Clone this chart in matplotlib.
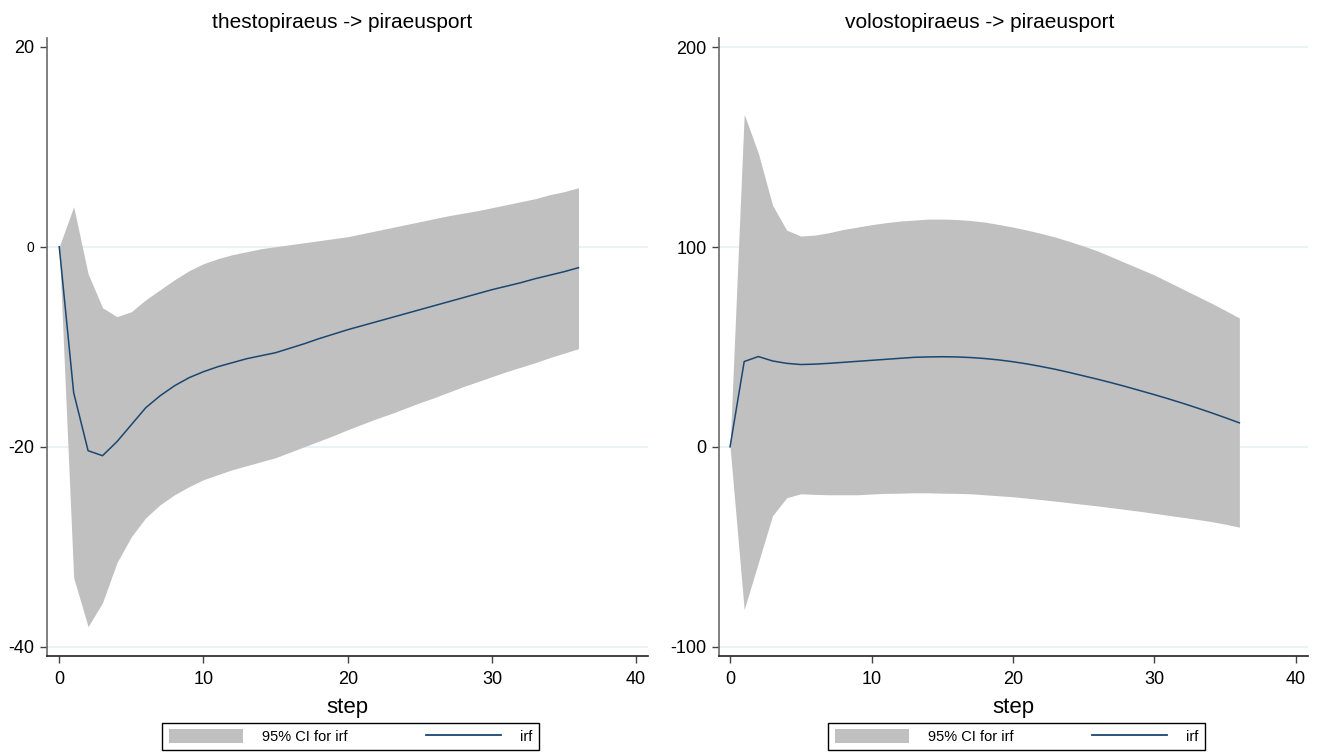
import matplotlib
matplotlib.use("Agg")
import matplotlib.pyplot as plt
from matplotlib.patches import Patch
from matplotlib.lines import Line2D

plt.rcParams['font.family'] = ['Liberation Sans', 'DejaVu Sans']
plt.rcParams['axes.unicode_minus'] = False

# impulse response steps
steps = list(range(37))

# thestopiraeus -> piraeusport
irf_thes = [0, -14.6, -20.4, -20.9, -19.5, -17.8, -16.1, -14.9, -13.9, -13.1, -12.5,
            -12.0, -11.6, -11.2, -10.9, -10.6, -10.15, -9.7, -9.2, -8.75, -8.3,
            -7.9, -7.5, -7.1, -6.7, -6.3, -5.9, -5.5, -5.1, -4.7, -4.3,
            -3.95, -3.6, -3.2, -2.85, -2.5, -2.1]
upper_thes = [0, 4.0, -2.7, -6.1, -7.0, -6.5, -5.3, -4.3, -3.3, -2.4, -1.7,
              -1.2, -0.8, -0.5, -0.2, 0.0, 0.2, 0.4, 0.6, 0.8, 1.0,
              1.3, 1.6, 1.9, 2.2, 2.5, 2.8, 3.1, 3.35, 3.6, 3.9,
              4.2, 4.5, 4.8, 5.2, 5.5, 5.9]
lower_thes = [0, -33.1, -38.0, -35.6, -31.6, -29.0, -27.1, -25.8, -24.8, -24.0, -23.3,
              -22.8, -22.3, -21.9, -21.5, -21.1, -20.55, -20.0, -19.45, -18.9, -18.3,
              -17.75, -17.2, -16.7, -16.15, -15.6, -15.1, -14.55, -14.0, -13.5, -13.0,
              -12.5, -12.05, -11.6, -11.1, -10.65, -10.2]

# volostopiraeus -> piraeusport
irf_volo = [0, 42.7, 45.2, 43.0, 41.8, 41.2, 41.4, 41.8, 42.3, 42.8, 43.3,
            43.8, 44.3, 44.8, 45.0, 45.1, 45.0, 44.7, 44.2, 43.5, 42.6,
            41.5, 40.2, 38.8, 37.2, 35.5, 33.8, 32.0, 30.1, 28.1, 26.1,
            24.0, 21.8, 19.5, 17.1, 14.6, 12.0]
upper_volo = [0, 166.5, 147.0, 121.0, 108.5, 105.5, 106.0, 107.2, 108.8, 110.0, 111.2,
              112.2, 113.0, 113.5, 114.0, 114.0, 113.8, 113.3, 112.5, 111.3, 110.0,
              108.5, 106.8, 105.0, 102.8, 100.5, 98.0, 95.0, 92.0, 89.0, 86.0,
              82.5, 79.0, 75.5, 72.0, 68.3, 64.5]
lower_volo = [0, -81.5, -58.0, -34.5, -25.5, -23.5, -23.8, -24.0, -24.0, -24.0, -23.6,
              -23.3, -23.2, -23.0, -23.0, -23.2, -23.3, -23.5, -24.0, -24.5, -25.0,
              -25.7, -26.4, -27.2, -28.0, -28.8, -29.6, -30.5, -31.4, -32.3, -33.3,
              -34.3, -35.3, -36.3, -37.4, -38.7, -40.2]

titles = ["thestopiraeus -> piraeusport", "volostopiraeus -> piraeusport"]
xticks = [0, 10, 20, 30, 40]
yticks_thes = [-40, -20, 0, 20]
yticks_volo = [-100, 0, 100, 200]
grid_thes = [-40, -20, 0]
grid_volo = [-100, 0, 100, 200]

W, H = 1320, 752
fig = plt.figure(figsize=(W / 100, H / 100), dpi=100)

ci_color = '#c0c0c0'
line_color = '#1a476f'
grid_color = '#e8f0f2'


def draw_panel(rect, irf, lo, hi, yticks, grid, xlim, ylim, title, title_x, leg_x):
    ax = fig.add_axes(rect)
    for g in grid:
        ax.axhline(g, color=grid_color, lw=1.2, zorder=0)
    ax.fill_between(steps, lo, hi, color=ci_color, linewidth=0, zorder=1)
    ax.plot(steps, irf, color=line_color, lw=1.1, zorder=2)
    ax.set_xlim(*xlim)
    ax.set_ylim(*ylim)
    ax.set_xticks(xticks)
    ax.set_yticks(yticks)
    for s in ['top', 'right']:
        ax.spines[s].set_visible(False)
    ax.spines['left'].set_color('#6a6a6a')
    ax.spines['left'].set_linewidth(1.2)
    ax.spines['bottom'].set_color('#222222')
    ax.spines['bottom'].set_linewidth(1.2)
    ax.tick_params(axis='x', length=5, width=1, color='#444444', labelsize=13, pad=6)
    ax.tick_params(axis='y', length=5, width=1, color='#444444', labelsize=13, pad=4)
    ax.set_xlabel('step', fontsize=16)
    ax.xaxis.set_label_coords(0.5, -51 / (rect[3] * H))
    ax.xaxis.label.set_va('center')
    fig.text(title_x / W, 1 - 22 / H, title, ha='center', va='center', fontsize=15)

    handles = [Patch(facecolor=ci_color, edgecolor='none'),
               Line2D([0], [0], color=line_color, lw=1.3)]
    leg = ax.legend(handles, ['95% CI for irf', 'irf'], ncol=2, loc='center',
                    bbox_to_anchor=(leg_x / W, 1 - 736.5 / H),
                    bbox_transform=fig.transFigure, fontsize=10.5,
                    handlelength=5.1, handleheight=1.03, handletextpad=1.3,
                    columnspacing=5.4, borderpad=0.45, borderaxespad=0,
                    fancybox=False, framealpha=1, edgecolor='black')
    leg.get_frame().set_linewidth(1.0)
    return ax


ax1 = draw_panel([46.7 / W, 1 - 656 / H, (647.7 - 46.7) / W, (656 - 38.3) / H],
                 irf_thes, lower_thes, upper_thes, yticks_thes, grid_thes,
                 (-0.87, 40.8), (-40.93, 20.84), titles[0], 342, 350.5)
ax2 = draw_panel([719.3 / W, 1 - 656 / H, (1308 - 719.3) / W, (656 - 38.3) / H],
                 irf_volo, lower_volo, upper_volo, yticks_volo, grid_volo,
                 (-0.76, 40.85), (-104.7, 204.5), titles[1], 980, 1016.5)

# the zero label on the left panel is drawn smaller in the original
for lab in ax1.get_yticklabels():
    if lab.get_text() == '0':
        lab.set_fontsize(10)

fig.savefig('out.png', dpi=100)
